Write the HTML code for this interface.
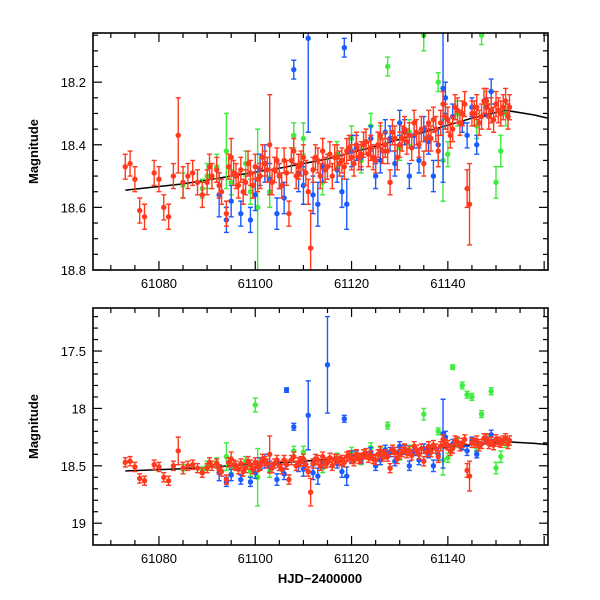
<!DOCTYPE html>
<html><head><meta charset="utf-8"><style>
body{margin:0;background:#fff}
svg{display:block}
text{font-family:"Liberation Sans",sans-serif;fill:#000}
</style></head><body>
<svg id="c" width="600" height="600" viewBox="0 0 600 600"></svg>
<script>
// trend line
const lineT=[61073,61085,61095,61105,61115,61125,61135,61145,61152,61158,61162];
const lineM=[18.545,18.525,18.50,18.475,18.445,18.405,18.36,18.315,18.29,18.305,18.32];
// red series
const redT=[61073,61074,61075,61076,61077,61079,61080,61081,61082,61083,61084,61085,61086,61087,61089,61090,61091,61092,61093,61094,61094.5,61095,61096,61097,61098,61099,61100,61101,61102,61103,61103.5,61104,61105,61106,61107,61107.5,61108,61109,61110,61111,61111.5,61112,61113,61114,61115,61116,61117,61118,61119,61120,61121,61122,61123,61124,61125,61126,61127,61128,61129,61130,61131,61132,61133,61134,61135,61136,61137,61138,61139,61140,61141,61142,61143,61144,61144.5,61145,61146,61147,61148,61149,61150,61151,61152,61152.5,61097.5,61099.5,61101.5,61105.5,61108.5,61110.5,61113.5,61116.5,61118.5,61121.5,61123.5,61126.5,61129.5,61131.5,61133.5,61136.5,61138.5,61141.5,61146.5,61149.5,61151.5,
61088,61090.5,61092.5,61095.5,61096.5,61098.5,61100.5,61102.5,61104.5,61106.5,61109.5,61112.5,61114.5,61115.5,61117.5,61119.5,61120.5,61122.5,61124.5,61125.5,61127.5,61128.5,61130.5,61132.5,61134.5,61135.5,61137.5,61139.5,61140.5,61142.5,61143.5,61145.5,61147.5,61148.5,61150.5,61152.8];
const redM=[18.47,18.46,18.51,18.61,18.63,18.49,18.51,18.60,18.63,18.50,18.37,18.52,18.50,18.49,18.56,18.52,18.50,18.48,18.55,18.62,18.47,18.44,18.50,18.48,18.52,18.49,18.47,18.50,18.46,18.40,18.52,18.48,18.50,18.45,18.62,18.45,18.42,18.47,18.44,18.55,18.73,18.48,18.45,18.42,18.47,18.50,18.44,18.45,18.42,18.44,18.40,18.43,18.39,18.41,18.45,18.37,18.40,18.52,18.38,18.40,18.35,18.37,18.33,18.40,18.46,18.33,18.32,18.42,18.27,18.32,18.35,18.29,18.30,18.54,18.59,18.30,18.28,18.31,18.26,18.29,18.27,18.30,18.26,18.31,18.55,18.53,18.44,18.53,18.50,18.49,18.50,18.44,18.47,18.44,18.43,18.42,18.44,18.39,18.36,18.38,18.33,18.28,18.33,18.32,18.28,
18.52,18.47,18.53,18.49,18.53,18.46,18.51,18.48,18.45,18.49,18.46,18.44,18.48,18.43,18.46,18.41,18.46,18.40,18.44,18.40,18.42,18.36,18.38,18.41,18.35,18.38,18.35,18.31,18.37,18.33,18.27,18.30,18.26,18.31,18.29,18.28];
const redE=[0.04,0.04,0.04,0.04,0.04,0.04,0.04,0.04,0.04,0.04,0.12,0.05,0.04,0.04,0.04,0.04,0.04,0.04,0.04,0.04,0.04,0.06,0.04,0.04,0.04,0.04,0.04,0.04,0.04,0.16,0.04,0.04,0.04,0.04,0.04,0.04,0.04,0.04,0.04,0.04,0.12,0.04,0.04,0.04,0.04,0.04,0.04,0.04,0.04,0.04,0.04,0.04,0.04,0.04,0.04,0.04,0.04,0.04,0.04,0.04,0.04,0.04,0.04,0.04,0.04,0.04,0.04,0.05,0.04,0.04,0.04,0.04,0.04,0.06,0.13,0.04,0.04,0.04,0.04,0.04,0.04,0.04,0.04,0.04,0.04,0.04,0.04,0.04,0.04,0.04,0.04,0.04,0.04,0.04,0.04,0.04,0.04,0.04,0.04,0.04,0.04,0.04,0.04,0.04,0.04,
0.04,0.04,0.04,0.04,0.04,0.04,0.04,0.04,0.04,0.04,0.04,0.04,0.04,0.04,0.04,0.04,0.04,0.04,0.04,0.04,0.04,0.04,0.04,0.04,0.04,0.04,0.04,0.04,0.04,0.04,0.04,0.04,0.04,0.04,0.04,0.04];
// blue series
const blueT=[61092.5,61094,61095,61097,61099,61100,61101,61102,61103,61104.5,61105,61106,61108,61109,61110,61111,61112,61113,61114,61115,61117,61118,61119,61120,61122,61125,61126,61128,61129,61130,61131,61132,61133,61134,61136,61137,61138,61139,61139.5,61143,61144,61145,61146,61148,61149,61106.5,61118.5,61121,61124,61127,61135,61141];
const blueM=[18.56,18.64,18.58,18.62,18.64,18.56,18.48,18.46,18.51,18.62,18.50,18.57,18.16,18.49,18.53,18.06,18.56,18.59,18.47,17.62,18.48,18.55,18.59,18.42,18.44,18.50,18.45,18.38,18.46,18.33,18.36,18.50,18.37,18.45,18.39,18.50,18.40,18.22,18.25,18.33,18.37,18.28,18.40,18.28,18.23,17.84,18.09,18.41,18.38,18.36,18.35,18.31];
const blueE=[0.07,0.04,0.05,0.04,0.04,0.05,0.05,0.06,0.05,0.05,0.04,0.05,0.03,0.06,0.06,0.3,0.06,0.07,0.05,0.42,0.04,0.05,0.08,0.05,0.04,0.04,0.04,0.04,0.04,0.04,0.04,0.04,0.04,0.04,0.04,0.05,0.05,0.3,0.05,0.03,0.04,0.03,0.03,0.03,0.04,0.02,0.03,0.04,0.04,0.04,0.04,0.04];
// green series
const greenT=[61085,61089,61090,61092,61094,61095,61098,61099,61100,61100.5,61103,61108,61110,61114,61117,61120,61122,61124,61126,61127.5,61130,61132,61135,61138,61139,61140,61141,61142,61143,61144,61145,61146,61147,61149,61150,61151,61152,61148];
const greenM=[18.53,18.54,18.50,18.47,18.42,18.52,18.46,18.55,17.97,18.60,18.55,18.37,18.38,18.52,18.43,18.38,18.45,18.34,18.38,18.15,18.41,18.36,18.05,18.20,18.45,18.43,17.64,18.30,17.80,17.88,17.90,18.34,18.05,17.85,18.52,18.42,18.30,18.27];
const greenE=[0.04,0.03,0.04,0.04,0.12,0.04,0.04,0.04,0.06,0.25,0.05,0.04,0.05,0.04,0.04,0.04,0.04,0.04,0.04,0.03,0.04,0.04,0.05,0.03,0.13,0.04,0.02,0.04,0.03,0.03,0.03,0.04,0.03,0.03,0.05,0.05,0.04,0.04];
const xTicks=[61080,61100,61120,61140];

const NS='http://www.w3.org/2000/svg';
const svg=document.getElementById('c');
function mk(tag,attrs,parent){const e=document.createElementNS(NS,tag);for(const k in attrs)e.setAttribute(k,attrs[k]);(parent||svg).appendChild(e);return e;}
const X0=93,X1=548,T0=61066.3,T1=61160.8;
function xs(t){return X0+(t-T0)/(T1-T0)*(X1-X0);}
const series=[[greenT,greenM,greenE,'#3dec3d','green'],[blueT,blueM,blueE,'#1a5cff','blue'],[redT,redM,redE,'#ff3a1e','red']];
const panels=[
 {y0:33,y1:270,m0:18.043,m1:18.8,maj:[18.2,18.4,18.6,18.8],lab:['18.2','18.4','18.6','18.8'],minStep:0.05,name:'top'},
 {y0:308,y1:545,m0:17.125,m1:19.19,maj:[17.5,18,18.5,19],lab:['17.5','18','18.5','19'],minStep:0.1,name:'bottom'}
];
panels.forEach((p,pi)=>{
 const g=mk('g',{});
 
 
 const ys=m=>p.y0+(m-p.m0)/(p.m1-p.m0)*(p.y1-p.y0);
 const cid='clip'+pi;
 const cp=mk('clipPath',{id:cid},g);mk('rect',{x:X0,y:p.y0,width:X1-X0,height:p.y1-p.y0},cp);
 const dg=mk('g',{'clip-path':'url(#'+cid+')'},g);
 let d='';lineT.forEach((t,i)=>{d+=(i?'L':'M')+xs(t).toFixed(1)+','+ys(lineM[i]).toFixed(1);});
 const ln=mk('path',{d:d,fill:'none',stroke:'#000','stroke-width':1.5},dg);
 
 
 series.forEach(([T,M,E,col,nm])=>{
  const sg=mk('g',{stroke:col,fill:col},dg);
  
  
  T.forEach((t,i)=>{
   const x=xs(t),ya=ys(M[i]-E[i]),yb=ys(M[i]+E[i]),y=ys(M[i]);
   mk('path',{d:`M${x},${ya}L${x},${yb}M${x-2.5},${ya}L${x+2.5},${ya}M${x-2.5},${yb}L${x+2.5},${yb}`,'stroke-width':1.4,fill:'none'},sg);
   const c=mk('circle',{cx:x,cy:y,r:2.7,stroke:'none'},sg);
   
   
  });
 });
 const fr=mk('rect',{x:X0,y:p.y0,width:X1-X0,height:p.y1-p.y0,fill:'none',stroke:'#000','stroke-width':1.6},g);
 
 
 for(let t=61070;t<=T1;t+=5){const x=xs(t);const L=(t%20===0)?9:5;
  mk('line',{x1:x,y1:p.y1,x2:x,y2:p.y1-L,stroke:'#000','stroke-width':1.2},g);
  mk('line',{x1:x,y1:p.y0,x2:x,y2:p.y0+L,stroke:'#000','stroke-width':1.2},g);}
 xTicks.forEach(t=>{const tx=mk('text',{x:xs(t),y:p.y1+18,'text-anchor':'middle','font-size':13},g);tx.textContent=t;
  
  });
 for(let k=Math.ceil(p.m0/p.minStep);k*p.minStep<=p.m1+1e-9;k++){const m=k*p.minStep;const y=ys(m);
  const isMaj=p.maj.some(v=>Math.abs(v-m)<1e-6);const L=isMaj?9:5;
  mk('line',{x1:X0,y1:y,x2:X0+L,y2:y,stroke:'#000','stroke-width':1.2},g);
  mk('line',{x1:X1,y1:y,x2:X1-L,y2:y,stroke:'#000','stroke-width':1.2},g);}
 p.maj.forEach((m,i)=>{const tx=mk('text',{x:86,y:ys(m)+5,'text-anchor':'end','font-size':13},g);tx.textContent=p.lab[i];
  
  });
 const yt=mk('text',{x:0,y:0,'text-anchor':'middle','font-size':13,'font-weight':'bold',transform:`translate(38,${(p.y0+p.y1)/2}) rotate(-90)`},g);
 yt.textContent='Magnitude';
 
 
});
const xt=mk('text',{x:320,y:583,'text-anchor':'middle','font-size':13,'font-weight':'bold'});
xt.textContent='HJD\u22122400000';


</script>
</body></html>
